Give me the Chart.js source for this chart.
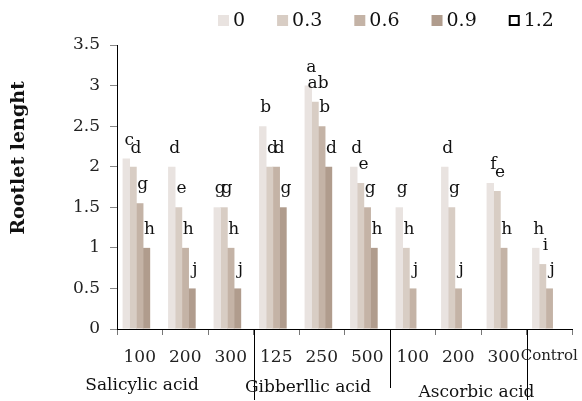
<!DOCTYPE html>
<html>
<head>
<meta charset="utf-8">
<script src="https://cdn.jsdelivr.net/npm/chart.js@4"></script>
<style>
  html, body { margin: 0; padding: 0; background: #fff; }
</style>
</head>
<body>
<canvas id="grafico" width="582" height="401"></canvas>
<script>
// Datos del gráfico
const categorias = ['100', '200', '300', '125', '250', '500', '100', '200', '300', 'Control'];
const series = ['0', '0.3', '0.6', '0.9', '1.2'];
const valores0 = [2.1, 2.0, 1.5, 2.5, 3.0, 2.0, 1.5, 2.0, 1.8, 1.0];
const valores03 = [2.0, 1.5, 1.5, 2.0, 2.8, 1.8, 1.0, 1.5, 1.7, 0.8];
const valores06 = [1.55, 1.0, 1.0, 2.0, 2.5, 1.5, 0.5, 0.5, 1.0, 0.5];
const valores09 = [1.0, 0.5, 0.5, 1.5, 2.0, 1.0, 0, 0, 0, 0];
const valores12 = [0, 0, 0, 0, 0, 0, 0, 0, 0, 0];
const letras0 = ['c', 'd', 'g', 'b', 'a', 'd', 'g', 'd', 'f', 'h'];
const letras03 = ['d', 'e', 'g', 'd', 'ab', 'e', 'h', 'g', 'e', 'i'];
const letras06 = ['g', 'h', 'h', 'd', 'b', 'g', 'j', 'j', 'h', 'j'];
const letras09 = ['h', 'j', 'j', 'g', 'd', 'h', '', '', '', ''];
const letras12 = ['', '', '', '', '', '', '', '', '', ''];
const grupos = ['Salicylic acid', 'Gibberllic acid', 'Ascorbic acid'];
const posGrupos = [0.05, 3.7, 7.4];   // posición en unidades de categoría
const yTicks = [0, 0.5, 1, 1.5, 2, 2.5, 3, 3.5];

const colores = ['#e9e3e0', '#d8cdc4', '#c4b3a6', '#b09c8d', '#ffffff'];
const FUENTE = '"DejaVu Serif", serif';

const todasLetras = [letras0, letras03, letras06, letras09, letras12];

// Dibujar letras, leyenda, título del eje y grupos
const extras = {
    id: 'extras',
    afterDatasetsDraw(chart) {
        const ctx = chart.ctx;
        ctx.save();
        ctx.font = '17px ' + FUENTE;
        ctx.fillStyle = '#111';
        ctx.textAlign = 'center';
        ctx.textBaseline = 'alphabetic';
        todasLetras.forEach((lista, i) => {
            const meta = chart.getDatasetMeta(i);
            meta.data.forEach((barra, j) => {
                if (!lista[j]) return;
                ctx.fillText(lista[j], barra.x + 3, barra.y - 14);
            });
        });
        ctx.restore();
    },
    afterDraw(chart) {
        const ctx = chart.ctx;
        const xs = chart.scales.x;
        const area = chart.chartArea;
        ctx.save();

        // Leyenda
        ctx.font = '19px ' + FUENTE;
        ctx.textBaseline = 'middle';
        ctx.textAlign = 'left';
        let x = 218;
        series.forEach((nombre, i) => {
            if (i === 4) {
                ctx.lineWidth = 2;
                ctx.strokeStyle = '#000';
                ctx.strokeRect(x + 1, 16, 9, 9);
            } else {
                ctx.fillStyle = colores[i];
                ctx.fillRect(x, 15, 11, 11);
            }
            ctx.fillStyle = '#111';
            ctx.fillText(nombre, x + 15, 21);
            x += 15 + ctx.measureText(nombre).width + 32;
        });

        // Título del eje Y
        ctx.save();
        ctx.translate(19, 158);
        ctx.rotate(-Math.PI / 2);
        ctx.font = 'bold 19px ' + FUENTE;
        ctx.textAlign = 'center';
        ctx.fillText('Rootlet lenght', 0, 0);
        ctx.restore();

        // Separadores entre grupos
        ctx.strokeStyle = '#000';
        ctx.lineWidth = 1;
        const cortes = [3, 6, 9];
        const finales = [400, 388, 400];
        cortes.forEach((c, k) => {
            const px = Math.round((xs.getPixelForValue(c - 1) + xs.getPixelForValue(c)) / 2) + 0.5;
            ctx.beginPath();
            ctx.moveTo(px, area.bottom);
            ctx.lineTo(px, finales[k]);
            ctx.stroke();
        });

        // Nombres de los grupos
        ctx.font = '17px ' + FUENTE;
        ctx.textAlign = 'center';
        ctx.textBaseline = 'middle';
        const alturas = [386, 388, 393];
        grupos.forEach((g, k) => {
            ctx.fillText(g, xs.getPixelForValue(posGrupos[k]), alturas[k]);
        });
        ctx.restore();
    }
};

const ctx = document.getElementById('grafico').getContext('2d');
new Chart(ctx, {
    type: 'bar',
    data: {
        labels: categorias,
        datasets: [valores0, valores03, valores06, valores09, valores12].map((v, i) => ({
            label: series[i],
            data: v,
            backgroundColor: colores[i],
            borderWidth: 0,
            categoryPercentage: 0.74,
            barPercentage: 1.1
        }))
    },
    options: {
        responsive: false,
        animation: false,
        devicePixelRatio: 1,
        layout: { padding: { top: 45, right: 10, bottom: 0, left: 0 } },
        plugins: {
            legend: { display: false },
            tooltip: { enabled: false }
        },
        scales: {
            y: {
                min: 0,
                max: 3.5,
                afterFit(scale) { scale.width = 117; },
                afterBuildTicks(scale) { scale.ticks = yTicks.map(v => ({ value: v })); },
                ticks: {
                    padding: 10,
                    color: '#222',
                    font: { family: FUENTE, size: 17 },
                    callback: v => String(v)
                },
                grid: { drawOnChartArea: false, tickLength: 7, color: '#888' },
                border: { color: '#000', width: 1 }
            },
            x: {
                afterFit(scale) {
                    scale.height = 72;
                    scale.paddingLeft = 0;
                    scale.paddingRight = 0;
                },
                ticks: {
                    autoSkip: false,
                    maxRotation: 0,
                    padding: 12,
                    color: '#222',
                    font: c => ({ family: FUENTE, size: c.index === 9 ? 15 : 17 })
                },
                grid: { drawOnChartArea: false, tickLength: 6, color: '#777', offset: true },
                border: { color: '#000', width: 1 }
            }
        }
    },
    plugins: [extras]
});
</script>
</body>
</html>
